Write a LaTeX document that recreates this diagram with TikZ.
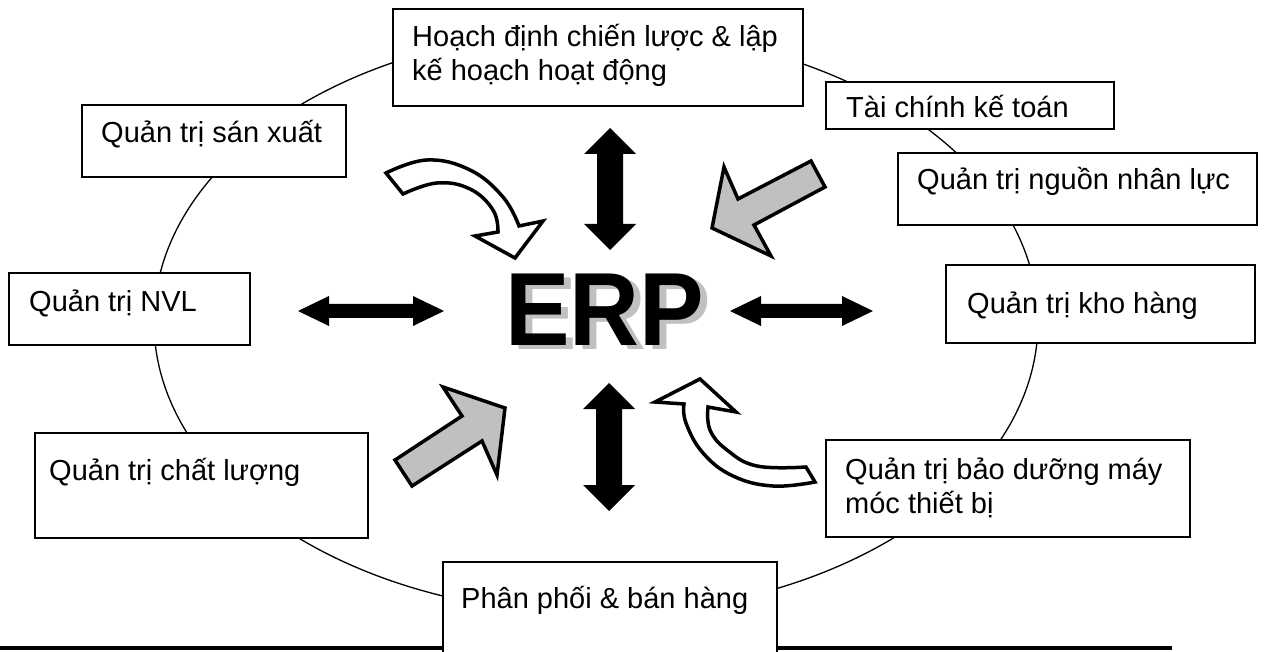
\documentclass[tikz,border=0pt]{standalone}
\usepackage{fontspec}
\setmainfont{Liberation Sans}
\definecolor{arrowgray}{HTML}{C0C0C0}
\tikzset{
  box/.style={draw, line width=1.6pt, fill=white, inner sep=0pt},
  txt/.style={inner sep=0pt, anchor=base west, font=\fontsize{29}{34}\selectfont, align=left},
  erptxt/.style={inner sep=0pt, anchor=base west, font=\fontsize{104}{104}\selectfont\bfseries},
  fatarrow/.style={fill=black, draw=none},
  bentarrow/.style={fill=white, draw=black, line width=3.5pt, line join=miter},
  grayarrow/.style={fill=arrowgray, draw=black, line width=3.5pt, line join=miter},
}
\begin{document}
\begin{tikzpicture}[x=1pt, y=-1pt]
\useasboundingbox (0,0) rectangle (1264,652);
% ring
\draw[line width=1.3pt] (596,322) ellipse [x radius=442pt, y radius=292pt];
% bottom rule
\draw[line width=3.5pt] (0,648) -- (1172,648);
% boxes
\node[box, minimum width=410pt, minimum height=97pt] (plan) at (598,57.5) {};
\node[box, minimum width=288pt, minimum height=47pt] (fin) at (970,105.5) {};
\node[box, minimum width=359pt, minimum height=72pt] (hr) at (1077.5,189) {};
\node[box, minimum width=264pt, minimum height=72pt] (prod) at (214,141) {};
\node[box, minimum width=241pt, minimum height=72pt] (nvl) at (129.5,309) {};
\node[box, minimum width=309pt, minimum height=78pt] (kho) at (1100.5,304) {};
\node[box, minimum width=333pt, minimum height=105pt] (qual) at (201.5,485.5) {};
\node[box, minimum width=364pt, minimum height=97pt] (maint) at (1008,488.5) {};
\node[box, minimum width=334pt, minimum height=96pt] (dist) at (610,610) {};
% texts
\node[txt] (tplan) at (412,81) {Hoạch định chiến lược \& lập\\kế hoạch hoạt động};
\node[txt] (tfin) at (846,118) {Tài chính kế toán};
\node[txt] (thr) at (917,190) {Quản trị nguồn nhân lực};
\node[txt] (tprod) at (101,143) {Quản trị sán xuất};
\node[txt] (tnvl) at (29,312) {Quản trị NVL};
\node[txt] (tkho) at (967,314) {Quản trị kho hàng};
\node[txt] (tqual) at (49,480) {Quản trị chất lượng};
\node[txt] (tmaint) at (845,513) {Quản trị bảo dưỡng máy\\móc thiết bị};
\node[txt] (tdist) at (461,608) {Phân phối \& bán hàng};
% double arrows
\fill[fatarrow] (610,128) -- (636,154) -- (623,154) -- (623,224) -- (636,224) -- (610,250)
  -- (584,224) -- (597,224) -- (597,154) -- (584,154) -- cycle;
\fill[fatarrow] (609,383) -- (635,409) -- (622,409) -- (622,485) -- (635,485) -- (609,511)
  -- (583,485) -- (596,485) -- (596,409) -- (583,409) -- cycle;
\fill[fatarrow] (298,311) -- (329,296) -- (329,304) -- (413,304) -- (413,296) -- (444,311)
  -- (413,326) -- (413,318) -- (329,318) -- (329,326) -- cycle;
\fill[fatarrow] (730,311) -- (761,296) -- (761,304) -- (842,304) -- (842,296) -- (873,311)
  -- (842,326) -- (842,318) -- (761,318) -- (761,326) -- cycle;
% gray arrows
\filldraw[grayarrow] (811,161) -- (738,199) -- (724,167) -- (712,228) -- (771,256) -- (754,225) -- (825,187) -- cycle;
\filldraw[grayarrow] (395,460) -- (462,416) -- (443,387) -- (505,408) -- (497,475) -- (482,441) -- (412,486) -- cycle;
% bent white arrows
\filldraw[bentarrow] plot[smooth, tension=0.7] coordinates {(386,173) (427,160) (470,170) (503,197) (519,226)}
  -- (543,221) -- (515,258) -- (475,236) -- (498,232)
  -- plot[smooth, tension=0.7] coordinates {(498,232) (493,210) (470,189) (437,183) (403,194)} -- cycle;
\filldraw[bentarrow] (655,402) -- (700,379) -- (736,412) -- (708,407)
  -- plot[smooth, tension=0.7] coordinates {(708,407) (710,430) (727,450) (757,466) (806,467)}
  -- (815,482)
  -- plot[smooth, tension=0.7] coordinates {(815,482) (773,486) (733,476) (703,453) (686,423) (684,404)} -- cycle;
% ERP
\node[erptxt, text=arrowgray] (erpshadow) at (512,350) {\scalebox{0.93}[1]{ERP}};
\node[erptxt] (erp) at (505,345) {\scalebox{0.93}[1]{ERP}};
\end{tikzpicture}
\end{document}
